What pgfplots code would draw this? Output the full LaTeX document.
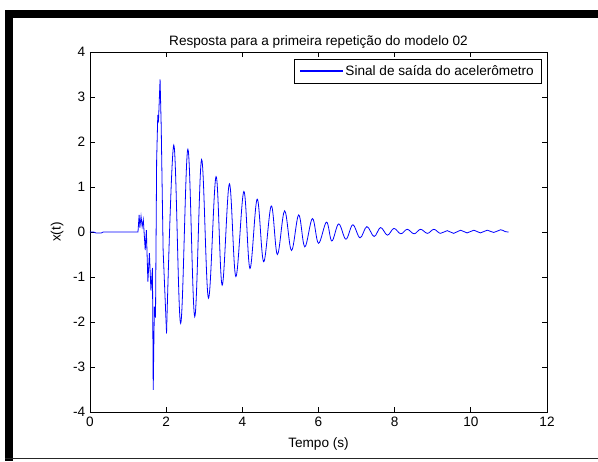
\documentclass[border=0pt]{standalone}
\usepackage{fontspec}
\setmainfont{Liberation Sans}
\usepackage{pgfplots}
\pgfplotsset{compat=1.18}
\definecolor{mblue}{RGB}{0,0,255}

% trecho inicial (impacto)
\pgfplotstableread{
t      x
0.00   0.00
0.10   0.00
0.15  -0.02
0.30  -0.02
0.35   0.00
1.26   0.00
1.29   0.38
1.31   0.10
1.34   0.35
1.37   0.12
1.40   0.27
1.45  -0.40
1.48   0.04
1.52  -1.10
1.56  -0.47
1.60  -1.30
1.64  -0.80
1.66  -3.51
1.69  -1.66
1.72  -1.90
1.75   1.60
1.78   2.60
1.80   2.50
1.84   3.39
1.87   2.34
1.92  -0.40
2.01  -2.25
}\impacto

% picos e vales da oscilacao amortecida
\pgfplotstableread{
t      x
2.01  -2.25
2.20   1.93
2.38  -2.03
2.57   1.84
2.75  -1.88
2.93   1.61
3.11  -1.47
3.31   1.23
3.47  -1.18
3.66   1.07
3.83  -0.99
4.04   0.90
4.20  -0.81
4.39   0.73
4.56  -0.66
4.76   0.58
4.92  -0.50
5.11   0.47
5.29  -0.41
5.48   0.38
5.64  -0.33
5.84   0.30
6.00  -0.25
6.21   0.22
6.35  -0.20
6.53   0.18
6.72  -0.16
6.90   0.16
7.09  -0.13
7.27   0.12
7.46  -0.10
7.63   0.10
7.81  -0.07
7.98   0.08
8.16  -0.04
8.33   0.06
8.51  -0.04
8.68   0.06
8.86  -0.03
9.03   0.06
9.20  -0.03
9.38   0.03
9.55  -0.03
9.73   0.04
9.90  -0.02
10.08  0.04
10.25 -0.02
10.43  0.04
10.60 -0.01
10.78  0.05
10.90  0.01
10.99  0.00
}\oscil

\begin{document}
\begin{tikzpicture}
\useasboundingbox (-67.5pt,-36.75pt) rectangle (381pt,309pt);
% moldura da janela
\fill[black] (-63.75pt,-36.75pt) rectangle (-57.75pt,301.5pt);
\fill[black] (-63.75pt,295.5pt) rectangle (381pt,301.5pt);
\fill[black!85] (-63.75pt,-35.6pt) rectangle (381pt,-34.85pt);
\begin{axis}[
    at={(0,0)}, anchor=south west,
    scale only axis,
    width=342.75pt,
    height=270pt,
    xmin=0, xmax=12,
    ymin=-4, ymax=4,
    xtick={0,2,...,12},
    ytick={-4,-3,...,4},
    tick align=inside,
    major tick length=3.75pt,
    axis line style={black, line width=0.6pt},
    tick style={black, line width=0.6pt},
    font=\fontsize{10.2}{12}\selectfont,
    /pgf/number format/assume math mode=true,
    title={Resposta para a primeira repetição do modelo 02},
    title style={at={(0.5,1)}, anchor=base, yshift=-0.75pt, inner sep=0pt},
    xlabel={Tempo (s)},
    xlabel style={at={(0.5,0)}, anchor=center, yshift=-24pt, inner sep=0pt},
    ylabel={x(t)},
    ylabel style={at={(0,0.5)}, anchor=center, yshift=24.75pt, inner sep=0pt},
    legend style={at={(1,1)}, anchor=north east, xshift=-3.75pt, yshift=-5.25pt,
        inner xsep=4pt, inner ysep=2.5pt, text=black,
        font=\fontsize{10.2}{12}\selectfont},
    legend cell align=left,
]
\addplot[mblue, line width=0.6pt,
    legend image code/.code={%
        \fill[mblue] (0pt,-0.3pt) rectangle (31.5pt,0.3pt);}]
    table[x=t,y=x] {\impacto};
\addlegendentry{Sinal de saída do acelerômetro}
\addplot[mblue, line width=0.6pt, smooth, tension=0.6, forget plot] table[x=t,y=x] {\oscil};
\end{axis}
\end{tikzpicture}
\end{document}
